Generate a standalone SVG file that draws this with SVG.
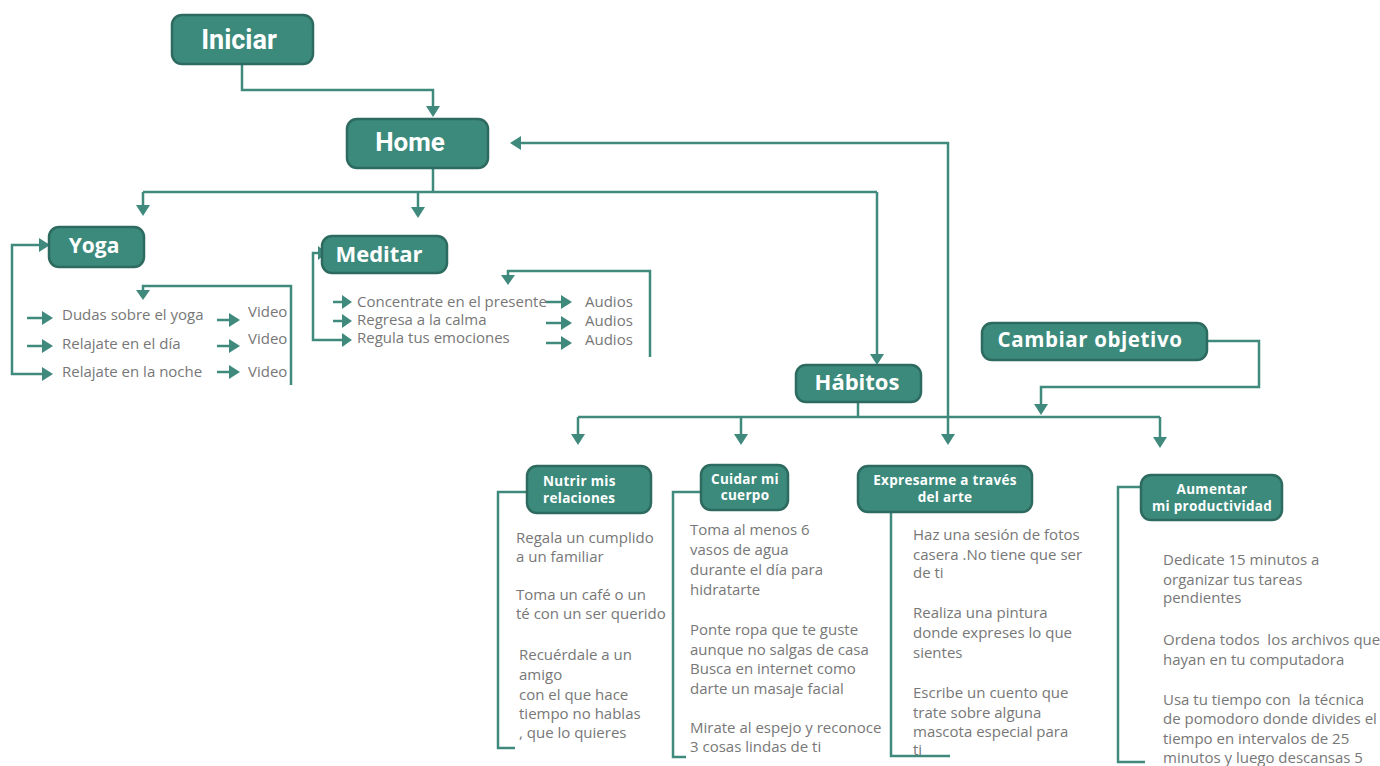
<svg xmlns="http://www.w3.org/2000/svg" width="1380" height="766" viewBox="0 0 1380 766">
<defs>
<style>
.box{fill:#3c8a7c;stroke:#2d6a5f;stroke-width:2.5}
.h1{font-family:Roboto,"Liberation Sans",sans-serif;font-weight:bold;fill:#fff}
.h2{font-family:"Open Sans","Liberation Sans",sans-serif;font-weight:bold;fill:#fff}
.h3{font-family:"Open Sans","Liberation Sans",sans-serif;font-weight:bold;fill:#fff;font-size:13.5px;letter-spacing:0.3px}
.t{font-family:"Open Sans","Liberation Sans",sans-serif;fill:#777;font-size:15px}
.c{fill:none;stroke:#3f8a7d;stroke-width:2.5}
.a{fill:#3f8a7d}
</style>
</defs>
<rect width="1380" height="766" fill="#fff"/>
<g id="connectors">
<path class="c" d="M242,64 V90 H433 V108"/>
<polygon class="a" points="426,106 440,106 433,117"/>
<path class="c" d="M433,168 V192 M143,192 H877 M143,192 V207 M418,192 V209 M877,192 V356"/>
<polygon class="a" points="136,205 150,205 143,216"/>
<polygon class="a" points="411,207 425,207 418,218"/>
<polygon class="a" points="870,354 884,354 877,365"/>
<path class="c" d="M948,436 V143 H519"/>
<polygon class="a" points="521,136 521,150 510,143"/>
<polygon class="a" points="941,434 955,434 948,445"/>
<path class="c" d="M858,402 V417 M578,417 H1160 M578,417 V436 M741,417 V436 M1160,417 V439"/>
<polygon class="a" points="571,434 585,434 578,445"/>
<polygon class="a" points="734,434 748,434 741,445"/>
<polygon class="a" points="1153,437 1167,437 1160,448"/>
<path class="c" d="M1207,341 H1259 V387 H1041 V406"/>
<polygon class="a" points="1034,404 1048,404 1041,415"/>
<path class="c" d="M40,245 H12 V374 H43 M27,318 H43 M27,346 H43"/>
<polygon class="a" points="39,238 39,252 50,245"/>
<polygon class="a" points="42,311 42,325 53,318"/>
<polygon class="a" points="42,339 42,353 53,346"/>
<polygon class="a" points="42,367 42,381 53,374"/>
<path class="c" d="M217,320 H231 M217,346 H231 M217,372 H231"/>
<polygon class="a" points="229,313 229,327 240,320"/>
<polygon class="a" points="229,339 229,353 240,346"/>
<polygon class="a" points="229,365 229,379 240,372"/>
<path class="c" d="M291,385 V286 H143 V292"/>
<polygon class="a" points="136,290 150,290 143,300"/>
<path class="c" d="M318,253 H313 V340 H343 M333,302 H343 M333,321 H343"/>
<polygon class="a" points="318,246 318,260 327,253"/>
<polygon class="a" points="342,333 342,347 352,340"/>
<polygon class="a" points="342,295 342,309 352,302"/>
<polygon class="a" points="342,314 342,328 352,321"/>
<path class="c" d="M546,302 H563 M546,323 H563 M546,343 H563"/>
<polygon class="a" points="561,295 561,309 572,302"/>
<polygon class="a" points="561,316 561,330 572,323"/>
<polygon class="a" points="561,336 561,350 572,343"/>
<path class="c" d="M650,357 V271 H508 V277"/>
<polygon class="a" points="501,275 515,275 508,285"/>
<path class="c" d="M527,492 H498 V748 H515"/>
<path class="c" d="M701,492 H673 V757 H686"/>
<path class="c" d="M891,510 V756 H950"/>
<path class="c" d="M1141,487 H1118 V762 H1145"/>
</g>
<g id="iniciar">
<rect class="box" x="172" y="15" width="141" height="49" rx="10"/>
<text class="h1" x="239" y="49" font-size="27" text-anchor="middle">Iniciar</text>
</g>
<g id="home">
<rect class="box" x="347" y="119" width="141" height="49" rx="10"/>
<text class="h1" x="410" y="151" font-size="26" text-anchor="middle">Home</text>
</g>
<g id="yoga">
<rect class="box" x="49" y="227" width="95" height="40" rx="10"/>
<text class="h2" x="94" y="253" font-size="21" text-anchor="middle">Yoga</text>
</g>
<g id="yoga-items">
<text class="t" x="62" y="320" font-size="15.5">Dudas sobre el yoga</text>
<text class="t" x="62" y="349" font-size="15.5">Relajate en el día</text>
<text class="t" x="62" y="377" font-size="15.5">Relajate en la noche</text>
<text class="t" x="248" y="317" font-size="12">Video</text>
<text class="t" x="248" y="344" font-size="12">Video</text>
<text class="t" x="248" y="377" font-size="12">Video</text>
</g>
<g id="meditar">
<rect class="box" x="322" y="236" width="125" height="37" rx="10"/>
<text class="h2" x="379" y="262" font-size="22" text-anchor="middle">Meditar</text>
</g>
<g id="meditar-items">
<text class="t" x="357" y="307" font-size="14.6">Concentrate en el presente</text>
<text class="t" x="357" y="325" font-size="14.6">Regresa a la calma</text>
<text class="t" x="357" y="343" font-size="14.6">Regula tus emociones</text>
<text class="t" x="585" y="307" font-size="13">Audios</text>
<text class="t" x="585" y="326" font-size="13">Audios</text>
<text class="t" x="585" y="345" font-size="13">Audios</text>
</g>
<g id="habitos">
<rect class="box" x="796" y="365" width="125" height="37" rx="10"/>
<text class="h2" x="857" y="390" font-size="22" text-anchor="middle">Hábitos</text>
</g>
<g id="cambiar">
<rect class="box" x="982" y="323" width="225" height="37" rx="10"/>
<text class="h2" x="1090" y="347" font-size="20.5" letter-spacing="0.6" text-anchor="middle">Cambiar objetivo</text>
</g>
<g id="nutrir">
<rect class="box" x="527" y="466" width="124" height="47" rx="10"/>
<text class="h3" x="543" y="486">Nutrir mis</text>
<text class="h3" x="543" y="503">relaciones</text>
<text class="t" x="516" y="543">Regala un cumplido</text>
<text class="t" x="516" y="562">a un familiar</text>
<text class="t" x="516" y="600">Toma un café o un</text>
<text class="t" x="516" y="619">té con un ser querido</text>
<text class="t" x="519" y="660">Recuérdale a un</text>
<text class="t" x="519" y="680">amigo</text>
<text class="t" x="519" y="700">con el que hace</text>
<text class="t" x="519" y="719">tiempo no hablas</text>
<text class="t" x="519" y="738">, que lo quieres</text>
</g>
<g id="cuidar">
<rect class="box" x="701" y="465" width="87" height="45" rx="10"/>
<text class="h3" x="745" y="484" text-anchor="middle">Cuidar mi</text>
<text class="h3" x="745" y="500" text-anchor="middle">cuerpo</text>
<text class="t" x="690" y="535">Toma al menos 6</text>
<text class="t" x="690" y="555">vasos de agua</text>
<text class="t" x="690" y="575">durante el día para</text>
<text class="t" x="690" y="595">hidratarte</text>
<text class="t" x="690" y="635">Ponte ropa que te guste</text>
<text class="t" x="690" y="655">aunque no salgas de casa</text>
<text class="t" x="690" y="674">Busca en internet como</text>
<text class="t" x="690" y="694">darte un masaje facial</text>
<text class="t" x="690" y="733">Mirate al espejo y reconoce</text>
<text class="t" x="690" y="752">3 cosas lindas de ti</text>
</g>
<g id="expresarme">
<rect class="box" x="858" y="466" width="174" height="46" rx="10"/>
<text class="h3" x="945" y="485" text-anchor="middle">Expresarme a través</text>
<text class="h3" x="945" y="502" text-anchor="middle">del arte</text>
<text class="t" x="913" y="540">Haz una sesión de fotos</text>
<text class="t" x="913" y="560">casera .No tiene que ser</text>
<text class="t" x="913" y="578">de ti</text>
<text class="t" x="913" y="618">Realiza una pintura</text>
<text class="t" x="913" y="638">donde expreses lo que</text>
<text class="t" x="913" y="658">sientes</text>
<text class="t" x="913" y="698">Escribe un cuento que</text>
<text class="t" x="913" y="718">trate sobre alguna</text>
<text class="t" x="913" y="737">mascota especial para</text>
<text class="t" x="913" y="755">ti</text>
</g>
<g id="aumentar">
<rect class="box" x="1141" y="475" width="141" height="45" rx="10"/>
<text class="h3" x="1212" y="494" text-anchor="middle">Aumentar</text>
<text class="h3" x="1212" y="511" text-anchor="middle">mi productividad</text>
<text class="t" x="1163" y="565" font-size="14.8">Dedicate 15 minutos a</text>
<text class="t" x="1163" y="585" font-size="14.8">organizar tus tareas</text>
<text class="t" x="1163" y="603" font-size="14.8">pendientes</text>
<text class="t" x="1163" y="645" font-size="14.8">Ordena todos&#160; los archivos que</text>
<text class="t" x="1163" y="665" font-size="14.8">hayan en tu computadora</text>
<text class="t" x="1163" y="705" font-size="14.8">Usa tu tiempo con&#160; la técnica</text>
<text class="t" x="1163" y="724" font-size="14.8">de pomodoro donde divides el</text>
<text class="t" x="1163" y="744" font-size="14.8">tiempo en intervalos de 25</text>
<text class="t" x="1163" y="763" font-size="14.8">minutos y luego descansas 5</text>
</g>
</svg>
